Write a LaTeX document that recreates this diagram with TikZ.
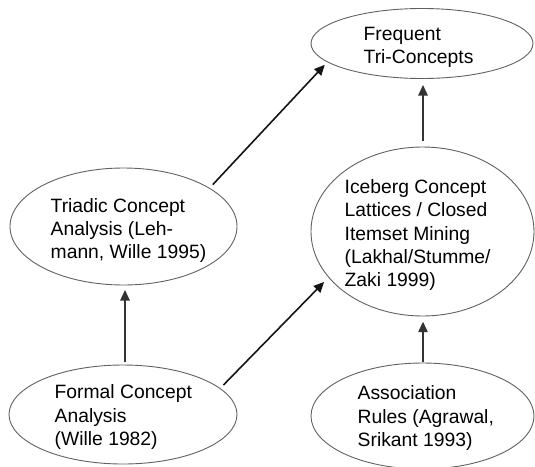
\documentclass[tikz,border=0pt]{standalone}
\usepackage{fontspec}
\setmainfont{Liberation Sans}
\usetikzlibrary{arrows.meta,shapes.geometric}
\tikzset{
  ell/.style={draw=black!62, line width=0.9pt, ellipse, inner sep=0pt, outer sep=0pt},
  txt/.style={anchor=north west, inner sep=0pt, align=left, text=black,
              font=\fontsize{19.3pt}{23.3pt}\selectfont},
  arr/.style={-{Triangle[length=10.5pt,width=9.5pt]}, line width=1.6pt, draw=black!92},
  varr/.style={-{Triangle[length=10.5pt,width=9.5pt]}, line width=1.3pt, draw=black!80}
}
\begin{document}
\begin{tikzpicture}[x=1pt,y=-1pt]
\useasboundingbox (0,0) rectangle (535,466);
% ellipses
\node[ell, minimum width=222pt, minimum height=70pt]  (freq) at (422,43.5) {};
\node[ell, minimum width=227pt, minimum height=117pt] (tri)  at (123.5,226.5) {};
\node[ell, minimum width=223pt, minimum height=169pt] (ice)  at (422.5,231.5) {};
\node[ell, minimum width=228pt, minimum height=99pt]  (form) at (123,414.5) {};
\node[ell, minimum width=223pt, minimum height=106pt] (asso) at (422.5,416) {};
% texts
\node[txt] (tfreq) at (363.5,26.6) {Frequent\\Tri-Concepts};
\node[txt] (ttri)  at (50.5,198) {Triadic Concept\\Analysis (Leh-\\mann, Wille 1995)};
\node[txt] (tice)  at (344.5,179.3) {Iceberg Concept\\Lattices / Closed\\Itemset Mining\\(Lakhal/Stumme/\\Zaki 1999)};
\node[txt] (tform) at (54.5,384.7) {Formal Concept\\Analysis\\(Wille 1982)};
\node[txt] (tasso) at (357.5,385.8) {Association\\Rules (Agrawal,\\Srikant 1993)};
% connectors
\draw[arr, shorten <=5pt, shorten >=4pt] (tri.24.5) -- (freq.191.2);
\draw[arr, shorten <=4.9pt, shorten >=6.6pt] (form.15) -- (ice.206.8);
\draw[varr, shorten <=6.3pt, shorten >=6.5pt] ([xshift=0.5pt]ice.north) -- ([xshift=1pt]freq.south);
\draw[varr, shorten <=3.3pt, shorten >=5pt] ([xshift=2pt]form.north) -- ([xshift=1.5pt]tri.south);
\draw[varr, shorten <=1.3pt, shorten >=5.7pt] ([xshift=0.5pt]asso.north) -- ([xshift=0.5pt]ice.south);
\end{tikzpicture}
\end{document}
